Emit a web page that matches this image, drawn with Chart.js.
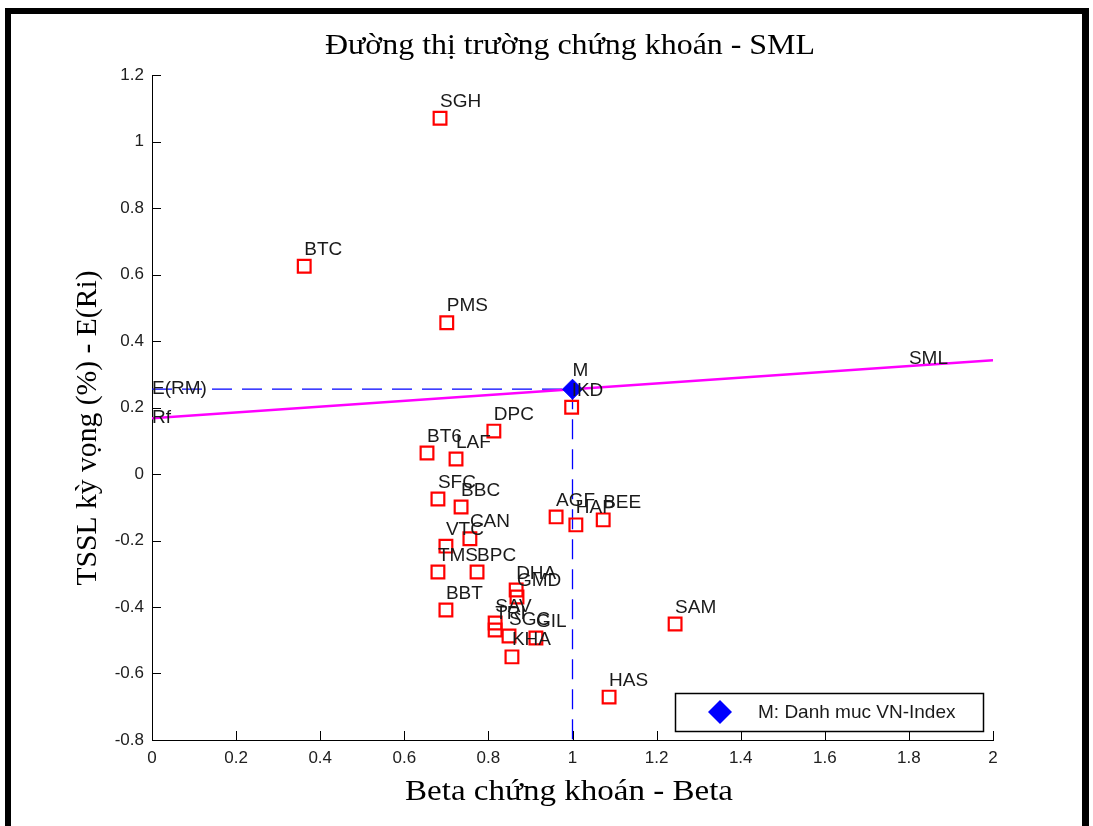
<!DOCTYPE html>
<html>
<head>
<meta charset="utf-8">
<script src="https://cdn.jsdelivr.net/npm/chart.js@4/dist/chart.umd.min.js"></script>
<style>
  body { margin: 0; background: #fff; }
  #wrap { width: 1093px; height: 826px; }
</style>
</head>
<body>
<div id="wrap"><canvas id="sml" width="1093" height="826"></canvas></div>
<script>
// Stock tickers with beta and expected return (%)
const tickers = ['SGH', 'BTC', 'PMS', 'IKD', 'DPC', 'BT6', 'LAF', 'SFC', 'BBC', 'AGF', 'HAP', 'BEE', 'CAN',
                 'VTC', 'TMS', 'BPC', 'DHA', 'GMD', 'SAV', 'TRI', 'SGC', 'GIL', 'KHA', 'BBT', 'SAM', 'HAS'];
const betas = [0.685, 0.362, 0.701, 0.998, 0.813, 0.654, 0.723, 0.680, 0.735, 0.961, 1.008, 1.073, 0.756,
               0.699, 0.680, 0.773, 0.866, 0.868, 0.816, 0.816, 0.849, 0.913, 0.856, 0.699, 1.244, 1.087];
const returns = [1.070, 0.625, 0.455, 0.201, 0.129, 0.063, 0.045, -0.075, -0.099, -0.129, -0.153, -0.138, -0.195,
                 -0.217, -0.295, -0.295, -0.349, -0.370, -0.448, -0.469, -0.487, -0.493, -0.550, -0.409, -0.451, -0.671];

// market portfolio (VN-Index) and risk free rate
const marketBeta = [1.0];
const marketReturn = [0.255];
const riskFree = 0.168;

// security market line end points
const smlBeta = [0, 2];
const smlReturn = [0.168, 0.342];

const xTicks = [0, 0.2, 0.4, 0.6, 0.8, 1, 1.2, 1.4, 1.6, 1.8, 2];
const yTicks = [-0.8, -0.6, -0.4, -0.2, 0, 0.2, 0.4, 0.6, 0.8, 1, 1.2];

const labelLift = 0.05; // text sits a bit above each marker

const stockPoints = betas.map((b, i) => ({ x: b, y: returns[i] }));

// draws text squeezed to a given width (the exported figure has condensed titles)
function stretchText(ctx, txt, cx, cy, width, rot) {
    ctx.save();
    ctx.translate(cx, cy);
    if (rot) ctx.rotate(rot);
    const w = ctx.measureText(txt).width;
    ctx.scale(width / w, 1);
    ctx.textAlign = 'center';
    ctx.textBaseline = 'alphabetic';
    ctx.fillText(txt, 0, 0);
    ctx.restore();
}

const decor = {
    id: 'decor',
    afterDraw(chart) {
        const { ctx, chartArea: a, scales: { x, y } } = chart;
        ctx.save();

        // inward tick marks
        ctx.strokeStyle = '#000';
        ctx.lineWidth = 1;
        ctx.beginPath();
        x.ticks.forEach(t => {
            const px = Math.round(x.getPixelForValue(t.value)) + 0.5;
            ctx.moveTo(px, a.bottom);
            ctx.lineTo(px, a.bottom - 9);
        });
        y.ticks.forEach(t => {
            const py = Math.round(y.getPixelForValue(t.value)) + 0.5;
            ctx.moveTo(a.left, py);
            ctx.lineTo(a.left + 9, py);
        });
        ctx.stroke();

        // point labels
        ctx.fillStyle = '#1a1a1a';
        ctx.font = '19px "Liberation Sans", Arial, sans-serif';
        ctx.textAlign = 'left';
        ctx.textBaseline = 'middle';
        tickers.forEach((t, i) => {
            ctx.fillText(t, x.getPixelForValue(betas[i]), y.getPixelForValue(returns[i] + labelLift));
        });
        ctx.fillText('M', x.getPixelForValue(marketBeta[0]), y.getPixelForValue(marketReturn[0] + 0.055));
        ctx.fillText('E(RM)', x.getPixelForValue(0), y.getPixelForValue(marketReturn[0]));
        ctx.fillText('Rf', x.getPixelForValue(0), y.getPixelForValue(riskFree));
        ctx.fillText('SML', x.getPixelForValue(1.8), y.getPixelForValue(0.346));

        // legend box
        const lx = 675, ly = 693, lw = 308, lh = 38;
        ctx.fillStyle = '#fff';
        ctx.fillRect(lx, ly, lw, lh);
        ctx.strokeStyle = '#000';
        ctx.lineWidth = 1.5;
        ctx.strokeRect(lx + 0.5, ly + 0.5, lw, lh);
        ctx.fillStyle = '#0000ff';
        ctx.beginPath();
        ctx.moveTo(720, 700); ctx.lineTo(732, 712); ctx.lineTo(720, 724); ctx.lineTo(708, 712);
        ctx.closePath();
        ctx.fill();
        ctx.fillStyle = '#1a1a1a';
        ctx.font = '19px "Liberation Sans", Arial, sans-serif';
        ctx.fillText('M: Danh muc VN-Index', 758, 713);

        // titles
        ctx.fillStyle = '#000';
        ctx.font = '30px "Liberation Serif", "Times New Roman", serif';
        stretchText(ctx, 'Đường thị trường chứng khoán - SML', 570, 54, 490);
        ctx.font = '29px "Liberation Serif", "Times New Roman", serif';
        stretchText(ctx, 'Beta chứng khoán - Beta', 569, 800, 328);
        stretchText(ctx, 'TSSL kỳ vọng (%) - E(Ri)', 96, 428, 315, -Math.PI / 2);

        // black frame of the exported figure
        ctx.fillStyle = '#000';
        ctx.fillRect(5, 8, 6, 818);
        ctx.fillRect(5, 8, 1083, 6);
        ctx.fillRect(1082, 8, 7, 818);
        ctx.restore();
    }
};

const tickFont = { family: '"Liberation Sans", Arial, sans-serif', size: 17 };
const fmt = v => String(Number(Number(v).toFixed(1)));

new Chart(document.getElementById('sml'), {
    type: 'scatter',
    data: {
        datasets: [
            {
                label: 'M',
                data: marketBeta.map((b, i) => ({ x: b, y: marketReturn[i] })),
                pointStyle: 'rectRot',
                pointRadius: 10,
                backgroundColor: '#0000ff',
                borderColor: '#0000ff',
                borderWidth: 1,
                order: 0
            },
            {
                label: 'stocks',
                data: stockPoints,
                pointStyle: 'rect',
                pointRadius: 9,
                backgroundColor: 'rgba(0,0,0,0)',
                borderColor: '#ff0000',
                borderWidth: 2.2,
                order: 1
            },
            {
                label: 'SML',
                data: smlBeta.map((b, i) => ({ x: b, y: smlReturn[i] })),
                showLine: true,
                borderColor: '#ff00ff',
                borderWidth: 2.5,
                pointRadius: 0,
                order: 2
            },
            {
                label: 'E(RM)',
                data: [{ x: 0, y: marketReturn[0] }, { x: marketBeta[0], y: marketReturn[0] }],
                showLine: true,
                borderColor: '#0000ff',
                borderWidth: 1.3,
                borderDash: [20, 10],
                pointRadius: 0,
                order: 3
            },
            {
                label: 'beta M',
                data: [{ x: marketBeta[0], y: marketReturn[0] }, { x: marketBeta[0], y: yTicks[0] }],
                showLine: true,
                borderColor: '#0000ff',
                borderWidth: 1.3,
                borderDash: [20, 10],
                pointRadius: 0,
                order: 3
            }
        ]
    },
    options: {
        responsive: false,
        animation: false,
        layout: { padding: { left: 0, top: 75, right: 100, bottom: 0 }, autoPadding: false },
        plugins: {
            legend: { display: false },
            tooltip: { enabled: false },
            title: { display: false }
        },
        scales: {
            x: {
                type: 'linear',
                min: 0,
                max: 2,
                afterBuildTicks: s => { s.ticks = xTicks.map(v => ({ value: v })); },
                afterFit: s => { s.height = 86; },
                grid: { drawOnChartArea: false, drawTicks: false },
                border: { display: true, color: '#000', width: 1 },
                ticks: { color: '#202020', font: tickFont, padding: 8, maxRotation: 0, autoSkip: false, callback: fmt }
            },
            y: {
                type: 'linear',
                min: -0.8,
                max: 1.2,
                afterBuildTicks: s => { s.ticks = yTicks.map(v => ({ value: v })); },
                afterFit: s => { s.width = 152; },
                grid: { drawOnChartArea: false, drawTicks: false },
                border: { display: true, color: '#000', width: 1 },
                ticks: { color: '#202020', font: tickFont, padding: 8, autoSkip: false, callback: fmt }
            }
        }
    },
    plugins: [decor]
});
</script>
</body>
</html>
